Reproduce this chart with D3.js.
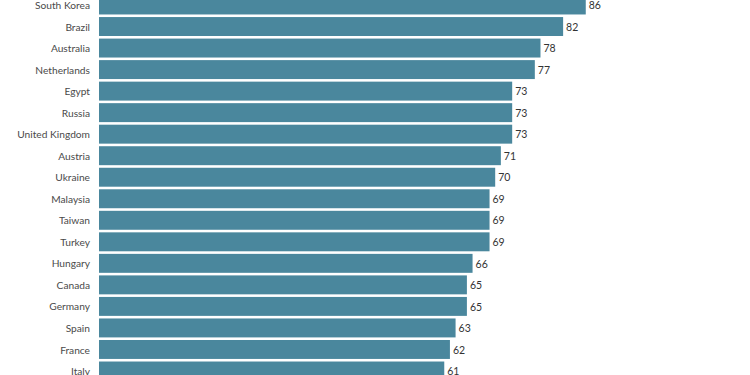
<!DOCTYPE html>
<html>
<head>
<meta charset="utf-8">
<script src="https://cdn.jsdelivr.net/npm/d3@7"></script>
<style>
  body { margin: 0; background: #fff; }
  svg { display: block; }
  text { font-family: "Source Sans Pro", Lato, "Noto Sans", sans-serif; }
</style>
</head>
<body>
<script>
const countries = ["South Korea", "Brazil", "Australia", "Netherlands", "Egypt", "Russia",
  "United Kingdom", "Austria", "Ukraine", "Malaysia", "Taiwan", "Turkey", "Hungary",
  "Canada", "Germany", "Spain", "France", "Italy"];
const values = [86, 82, 78, 77, 73, 73, 73, 71, 70, 69, 69, 69, 66, 65, 65, 63, 62, 61];

const data = countries.map((c, i) => ({ name: c, value: values[i] }));

const w = 750, h = 375, left = 99;

const svg = d3.select("body")
  .append("svg")
  .attr("width", w)
  .attr("height", h);

const xScale = d3.scaleLinear()
  .domain([0, 100])
  .range([left, left + 566]);

const yScale = d3.scaleBand()
  .domain(countries)
  .range([-7.06, 383.05])
  .paddingInner(0.12)
  .paddingOuter(0.12);

svg.selectAll("rect.bar")
  .data(data)
  .enter()
  .append("rect")
  .attr("class", "bar")
  .attr("x", xScale(0))
  .attr("y", d => yScale(d.name))
  .attr("width", d => xScale(d.value) - xScale(0))
  .attr("height", yScale.bandwidth())
  .attr("fill", "#4a879d");

// country labels
const yAxis = d3.axisLeft(yScale).tickSize(0).tickPadding(9);
const ax = svg.append("g")
  .attr("transform", `translate(${xScale(0)}, 0)`)
  .call(yAxis);
ax.select(".domain").remove();
ax.selectAll("text")
  .attr("font-size", 10.2)
  .attr("fill", "#4a4a4a")
  .attr("dy", "0.4em")
  .style("font-family", "\"Source Sans Pro\", Lato, \"Noto Sans\", sans-serif");

// value labels
svg.selectAll("text.val")
  .data(data)
  .enter()
  .append("text")
  .attr("class", "val")
  .attr("x", d => xScale(d.value) + 3)
  .attr("y", d => yScale(d.name) + yScale.bandwidth() / 2)
  .attr("dy", "0.4em")
  .attr("font-size", 10.5)
  .attr("fill", "#333")
  .text(d => d.value);
</script>
</body>
</html>
